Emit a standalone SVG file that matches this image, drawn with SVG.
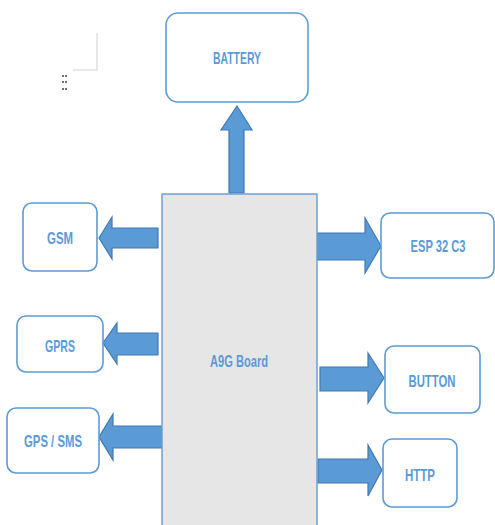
<svg xmlns="http://www.w3.org/2000/svg" width="495" height="525" viewBox="0 0 495 525">
  <style>
    .box { fill: #ffffff; stroke: #5b9bd5; stroke-width: 1.6; }
    .board { fill: #e6e6e6; stroke: #6fa0d6; stroke-width: 1.5; }
    .arrow { fill: #5b9bd5; stroke: #4178b4; stroke-width: 1.2; stroke-linejoin: miter; }
    .lbl { font-family: "Liberation Sans", Arial, sans-serif; font-weight: bold; font-size: 17px; fill: #5b9bd5; text-anchor: middle; }
    .mark { fill: none; stroke: #d0d0d0; stroke-width: 1; }
    .dot { fill: #707070; }
  </style>

  <rect width="495" height="525" fill="#ffffff"/>

  <!-- editor corner mark and handle -->
  <g id="corner-mark">
    <path class="mark" d="M97,33 V70 H73"/>
    <rect class="dot" x="62" y="75" width="2" height="2"/>
    <rect class="dot" x="65" y="75" width="2" height="2"/>
    <rect class="dot" x="62" y="81" width="2" height="2"/>
    <rect class="dot" x="65" y="81" width="2" height="2"/>
    <rect class="dot" x="62" y="88" width="2" height="2"/>
    <rect class="dot" x="65" y="88" width="2" height="2"/>
  </g>

  <!-- block arrows -->
  <g id="connectors">
    <!-- board to battery -->
    <polygon class="arrow" points="229,193 229,130 221,130 237,106 252,130 244,130 244,193"/>
    <!-- board to GSM -->
    <polygon class="arrow" points="158,228 112,228 112,217 99,238 112,259 112,248 158,248"/>
    <!-- board to GPRS -->
    <polygon class="arrow" points="158,333 117,333 117,323 103,343 117,364 117,355 158,355"/>
    <!-- board to GPS / SMS -->
    <polygon class="arrow" points="162,426 113,426 113,414 99,437 113,460 113,448 162,448"/>
    <!-- board to ESP 32 C3 -->
    <polygon class="arrow" points="317,233 365,233 365,218 381,246 365,273 365,260 317,260"/>
    <!-- board to BUTTON -->
    <polygon class="arrow" points="320,367 368,367 368,353 384,378 368,403 368,391 320,391"/>
    <!-- board to HTTP -->
    <polygon class="arrow" points="318,459 368,459 368,445 382,470 368,496 368,483 318,483"/>
  </g>

  <g id="board">
    <rect class="board" x="162" y="194" width="155" height="340"/>
    <text class="lbl" x="239" y="367" textLength="58" lengthAdjust="spacingAndGlyphs">A9G Board</text>
  </g>

  <g id="battery">
    <rect class="box" x="166" y="13" width="142" height="89" rx="12"/>
    <text class="lbl" x="237" y="64" textLength="48" lengthAdjust="spacingAndGlyphs">BATTERY</text>
  </g>

  <g id="gsm">
    <rect class="box" x="23" y="203" width="74" height="68" rx="9"/>
    <text class="lbl" x="60" y="244" textLength="26" lengthAdjust="spacingAndGlyphs">GSM</text>
  </g>

  <g id="gprs">
    <rect class="box" x="17" y="316" width="86" height="56" rx="9"/>
    <text class="lbl" x="60" y="352" textLength="30" lengthAdjust="spacingAndGlyphs">GPRS</text>
  </g>

  <g id="gps-sms">
    <rect class="box" x="7" y="408" width="92" height="65" rx="9"/>
    <text class="lbl" x="53" y="447" textLength="58" lengthAdjust="spacingAndGlyphs">GPS / SMS</text>
  </g>

  <g id="esp32c3">
    <rect class="box" x="381" y="213" width="113" height="65" rx="9"/>
    <text class="lbl" x="438" y="252" textLength="55" lengthAdjust="spacingAndGlyphs">ESP 32 C3</text>
  </g>

  <g id="button">
    <rect class="box" x="385" y="346" width="95" height="67" rx="9"/>
    <text class="lbl" x="432" y="387" textLength="47" lengthAdjust="spacingAndGlyphs">BUTTON</text>
  </g>

  <g id="http">
    <rect class="box" x="383" y="439" width="74" height="68" rx="9"/>
    <text class="lbl" x="420" y="481" textLength="30" lengthAdjust="spacingAndGlyphs">HTTP</text>
  </g>
</svg>
